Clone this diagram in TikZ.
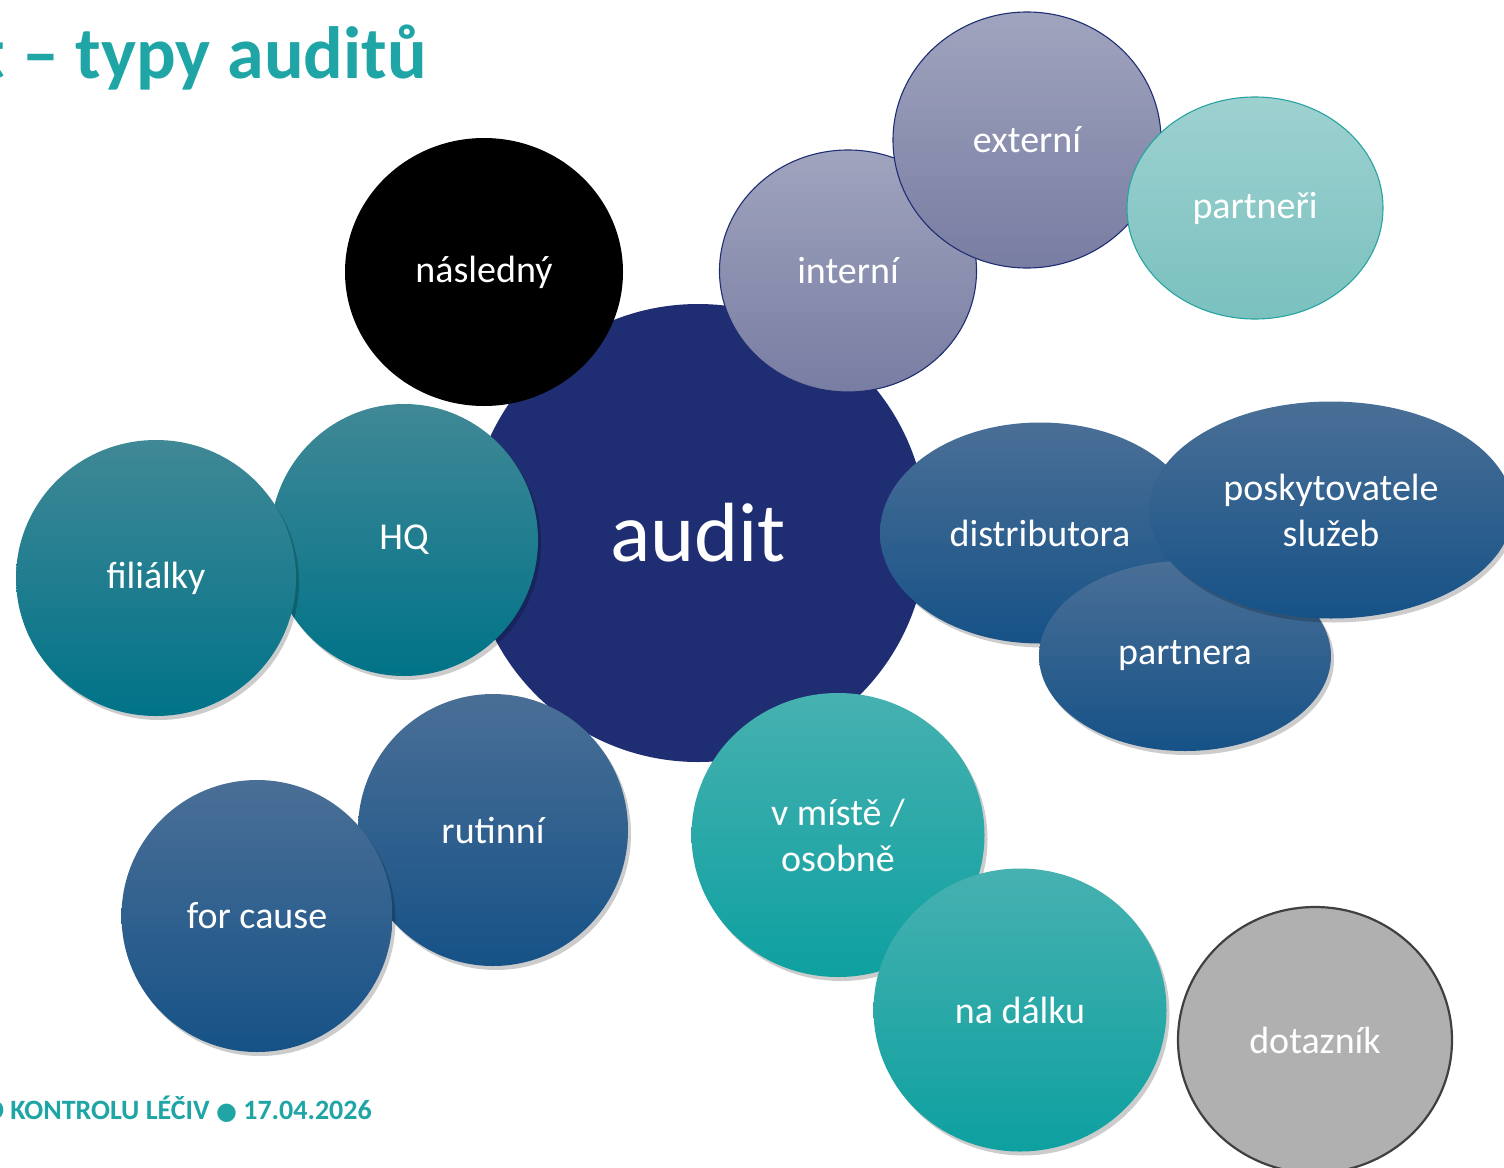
\documentclass[tikz,border=0pt]{standalone}
\usepackage{fontspec}
\setmainfont{Carlito}
\newfontfamily\dejavu{DejaVu Sans}
\usetikzlibrary{shapes.geometric,shadows}
\definecolor{navy}{RGB}{31,46,115}
\definecolor{teal}{RGB}{31,165,165}
\definecolor{blueTop}{RGB}{74,111,150}
\definecolor{blueBot}{RGB}{22,82,135}
\definecolor{dtealTop}{RGB}{64,136,150}
\definecolor{dtealBot}{RGB}{0,115,136}
\definecolor{ltealTop}{RGB}{70,177,176}
\definecolor{ltealBot}{RGB}{14,160,160}
\definecolor{lavTop}{RGB}{160,164,190}
\definecolor{lavBot}{RGB}{120,125,162}
\definecolor{mintTop}{RGB}{157,209,208}
\definecolor{mintBot}{RGB}{122,193,191}
\definecolor{mintLine}{RGB}{40,164,160}
\definecolor{greyFill}{RGB}{176,176,176}
\definecolor{greyLine}{RGB}{64,64,64}
\begin{document}
\begin{tikzpicture}[x=1pt,y=-1pt,
  bubble/.style={ellipse, inner sep=0pt, text=white, align=center,
    font=\fontsize{38}{46}\selectfont},
  softshadow/.style={general shadow={shadow xshift=3pt, shadow yshift=-4pt, fill=black, opacity=0.2}},
  bluebub/.style={bubble, softshadow, top color=blueTop, bottom color=blueBot},
  dtealbub/.style={bubble, softshadow, top color=dtealTop, bottom color=dtealBot},
  ltealbub/.style={bubble, softshadow, top color=ltealTop, bottom color=ltealBot},
  lavbub/.style={bubble, top color=lavTop, bottom color=lavBot, draw=navy, line width=1.1pt},
  titletext/.style={text=teal, font=\fontsize{74}{80}\selectfont\bfseries, inner sep=0pt},
  foottext/.style={text=teal, font=\fontsize{28}{32}\selectfont\bfseries, inner sep=0pt}
]
\clip (0,0) rectangle (1504,1167);
\fill[white] (0,0) rectangle (1504,1167);

% title and footer
\node[titletext, anchor=base east] (title) at (427,78) {Audit – typy auditů};
\node[foottext, anchor=base east] (footer) at (372,1119) {STÁTNÍ ÚSTAV PRO KONTROLU LÉČIV {\dejavu\fontsize{24}{28}\selectfont ●} 17.04.2026};

% centre
\node[bubble, fill=navy, minimum width=458pt, minimum height=458pt,
      font=\fontsize{84}{90}\selectfont] (audit) at (698,533) {audit};

% following
\node[bubble, fill=black, minimum width=278pt, minimum height=268pt] (nasledny) at (484,272) {následný};

% internal / external / partners
\node[lavbub, minimum width=257pt, minimum height=242pt] (interni) at (848,271) {interní};
\node[lavbub, minimum width=268pt, minimum height=256pt] (externi) at (1027,140) {externí};
\node[bubble, top color=mintTop, bottom color=mintBot, draw=mintLine, line width=1.1pt,
      minimum width=256pt, minimum height=222pt] (partneri) at (1255,208) {partneři};

% HQ / branches
\node[dtealbub, minimum width=268pt, minimum height=272pt] (hq) at (404,540) {HQ};
\node[dtealbub, minimum width=280pt, minimum height=276pt] (filialky) at (156,578) {filiálky};

% distributor / partner / service providers
\node[bluebub, minimum width=320pt, minimum height=221pt] (distributora) at (1040,533) {distributora};
\node[bluebub, minimum width=292pt, minimum height=190pt] (partnera) at (1185,656) {partnera};
\node[bluebub, minimum width=364pt, minimum height=217pt] (poskyt) at (1331,510) {poskytovatele\\služeb};

% routine / for cause
\node[bluebub, minimum width=270pt, minimum height=272pt] (rutinni) at (493,830) {rutinní};
\node[bluebub, minimum width=271pt, minimum height=272pt] (forcause) at (257,916) {for cause};

% on site / remote
\node[ltealbub, minimum width=293pt, minimum height=284pt] (vmiste) at (838,835) {v místě /\\osobně};
\node[ltealbub, minimum width=293pt, minimum height=283pt] (nadalku) at (1020,1010) {na dálku};

% questionnaire
\node[bubble, fill=greyFill, draw=greyLine, line width=2.2pt,
      minimum width=274pt, minimum height=266pt] (dotaznik) at (1315,1040) {dotazník};
\end{tikzpicture}
\end{document}
